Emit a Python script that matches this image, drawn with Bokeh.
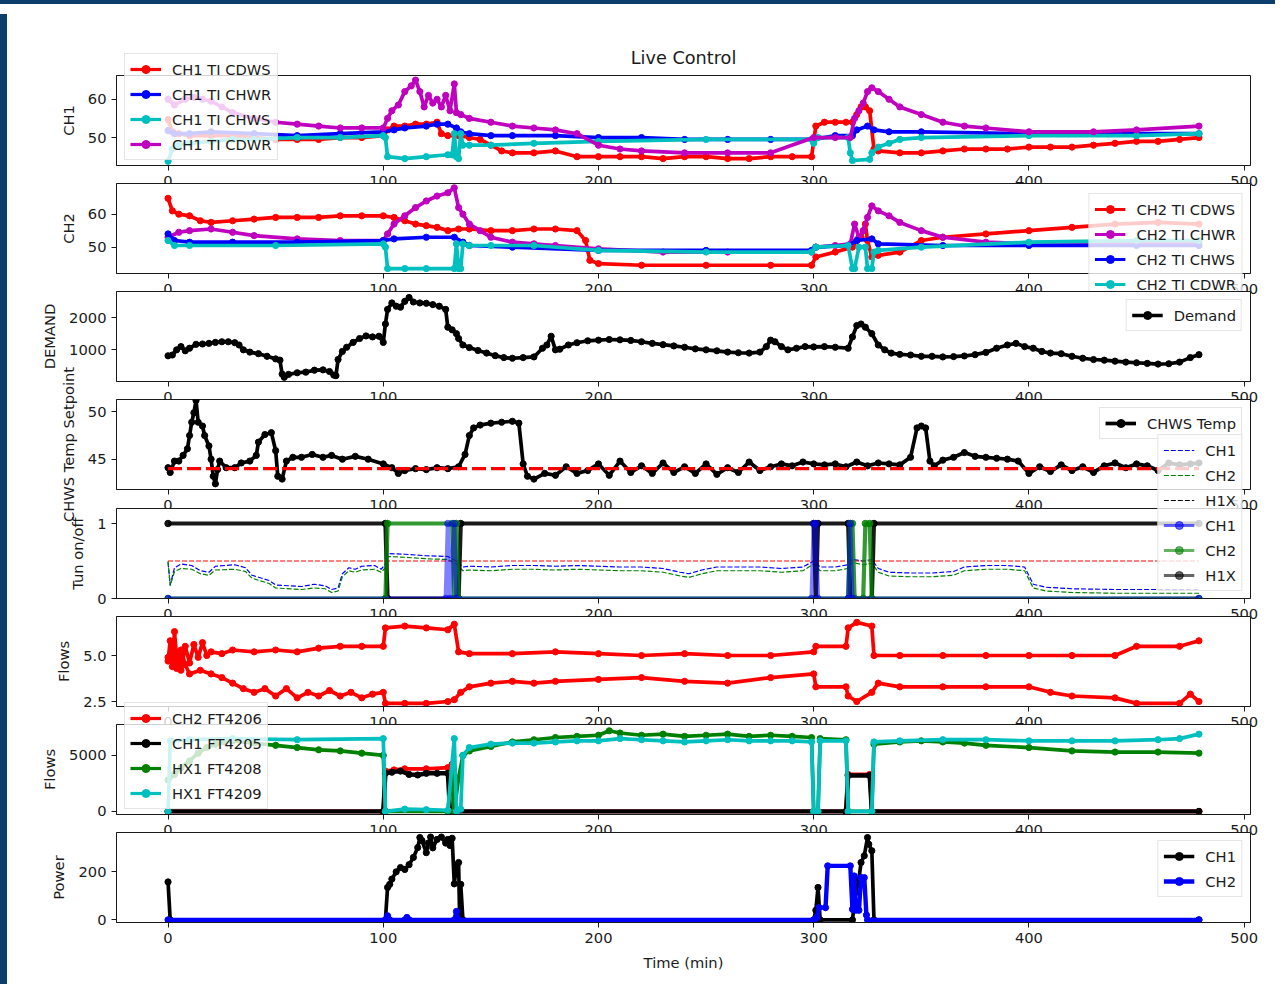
import numpy as np
from bokeh.plotting import figure
from bokeh.layouts import column, row
from bokeh.models import (Range1d, Legend, LegendItem, Div, FixedTicker,
                          PrintfTickFormatter)
from bokeh.embed import file_html
from bokeh.resources import INLINE

FONT = "DejaVu Sans"
FS = "14.7px"
TXT = "#1a1a1a"

# ---------------- data (time in minutes, value) ----------------
x_ticks = [0, 100, 200, 300, 400, 500]

ch1_cdws = [(0,54.7),(2,51.5),(5,51),(10,50.5),(20,50.5),(30,50.5),(40,50),(50,49.5),(60,49.5),(70,49.5),(80,50),(90,50),(100,50.5),(102,52),(105,53),(110,53),(115,53.5),(120,53.5),(125,54),(127,51),(130,50.5),(135,50.5),(140,50),(145,49.5),(150,48),(155,46.5),(160,46),(170,46),(180,46.5),(190,45),(200,45),(210,45),(220,45),(230,44.5),(240,45),(250,45),(260,44.5),(270,44.5),(280,45),(290,45),(299,45),(301,53),(305,54),(310,54),(315,54),(318,54),(320,56),(322,58),(324,58),(326,57),(328,47),(330,46.5),(340,46),(350,46),(360,46.5),(370,47),(380,47),(390,47),(400,47.5),(410,47.5),(420,47.5),(430,48),(440,48.5),(450,49),(460,49),(470,49.5),(479,50)]
ch1_chwr = [(0,51.8),(3,51),(10,51),(20,51.5),(40,51),(60,50.5),(80,51),(100,51.5),(105,52),(110,52.5),(120,53),(125,53.5),(130,53.5),(134,52.5),(136,51.5),(140,51),(150,50.5),(160,50.5),(180,50.5),(200,50),(220,50),(240,49.5),(260,49.5),(280,49.5),(300,49.5),(310,50.5),(318,50.5),(320,52),(325,53),(328,52),(335,51.5),(350,51.5),(400,51),(450,51),(479,51)]
ch1_chws = [(0,43.8),(2,47),(5,48),(10,48.5),(20,49),(30,49.5),(40,49.5),(60,50),(80,50),(100,50.5),(101,50),(102,45),(110,44.5),(120,45),(130,45.5),(132,45.5),(133,51),(134,45),(135,44.5),(136,51),(137,48),(140,48),(150,48),(170,48.5),(200,49),(250,49.5),(299,49.5),(300,48.5),(302,50),(316,50),(317,46),(318,44),(326,44.3),(327,46),(330,47.5),(335,48.5),(340,49.5),(350,50),(400,50.5),(450,50.5),(479,51)]
ch1_cdwr = [(0,60),(3,58.5),(8,60),(12,60.5),(16,60),(20,59.5),(25,58),(30,56.5),(40,55),(50,54),(60,53.5),(70,53),(80,52.5),(90,52.5),(100,52.5),(102,55),(104,57),(107,58.5),(110,62),(113,63.5),(115,65),(117,62),(119,58),(121,61),(123,59),(125,60),(127,58),(129,61),(131,57),(133,64),(134,56.5),(136,56),(140,55),(150,54),(160,53),(170,52.5),(180,52),(190,51),(200,48),(210,47),(220,46.5),(240,46),(260,46),(280,46),(300,50),(310,50),(317,50),(319,55),(321,57),(323,59),(325,62),(327,63),(330,62),(335,60),(340,58),(350,56),(360,54),(370,53),(380,52.5),(400,51.5),(430,51.5),(450,52),(479,53)]

ch2_cdws = [(0,64.8),(2,61),(5,60),(10,59.5),(15,58),(20,57.5),(30,58),(40,58.5),(50,59),(60,59),(70,59),(80,59.5),(90,59.5),(100,59.5),(105,59),(110,58),(115,57),(120,56.5),(125,56),(130,55),(135,55.5),(140,55.5),(150,55),(160,55),(170,55.5),(180,55.5),(190,55),(194,52),(196,46),(200,45),(220,44.5),(250,44.5),(280,44.5),(299,44.5),(301,47),(310,48.5),(318,50),(320,52),(322,53),(324,57),(325,52),(327,47),(330,47.5),(340,48.5),(350,52),(360,53),(380,54),(400,55),(420,56),(440,57),(460,57.5),(479,57)]
ch2_chwr = [(0,53),(5,54.5),(10,55),(20,55.5),(30,54.5),(40,53.5),(60,52.5),(80,52),(100,52),(102,54),(105,57),(110,59.5),(115,62),(120,64),(125,65.5),(130,66.5),(133,68),(135,62),(137,60),(140,57),(145,55),(150,53),(160,51.5),(170,51),(180,50.5),(200,49.5),(230,48.5),(260,48.5),(299,48.5),(301,50),(310,50.5),(317,51),(319,57),(321,53),(323,55),(325,59),(327,62.5),(330,61),(335,59.5),(340,57.5),(350,55),(360,53),(380,51.5),(400,51),(450,51),(479,51.5)]
ch2_chws = [(0,54),(3,52),(10,51.5),(30,51.5),(60,51.5),(100,52),(105,52.5),(120,53),(133,53),(137,51.5),(140,50.5),(160,50),(200,49),(250,49),(299,49),(301,50),(316,50.5),(320,52),(327,52.5),(330,51),(360,50.5),(400,50.5),(450,50.5),(479,50.5)]
ch2_cdwr = [(0,52),(3,50.5),(10,50.5),(50,50.5),(100,51),(101,50),(102,43.5),(110,43.5),(120,43.5),(133,43.5),(134,51),(135,43.5),(136,43.5),(137,51),(140,50.5),(150,50.5),(170,50.5),(200,49),(250,48.5),(299,48.5),(301,50),(316,50.5),(318,43.5),(319,43.5),(321,50),(324,50),(325,43.5),(327,43.5),(328,48.5),(330,49),(350,50),(400,51.5),(450,52),(479,52)]

demand = [(0,815),(2,840),(4,1000),(6,1100),(8,970),(10,1050),(13,1170),(16,1180),(19,1200),(22,1230),(25,1250),(28,1250),(31,1220),(33,1150),(35,1000),(38,930),(42,880),(46,800),(50,720),(52,680),(53,250),(54,150),(56,240),(60,290),(64,310),(68,370),(72,380),(75,330),(77,220),(78,200),(79,700),(81,950),(83,1080),(86,1230),(89,1350),(92,1430),(95,1400),(98,1420),(100,1230),(101,1800),(102,2250),(104,2450),(106,2350),(108,2320),(110,2500),(112,2620),(114,2480),(117,2450),(120,2440),(123,2400),(126,2350),(129,2250),(130,1700),(132,1620),(134,1500),(135,1350),(137,1150),(140,1070),(144,980),(148,900),(152,820),(156,760),(160,740),(165,760),(170,780),(174,1050),(176,1150),(178,1420),(180,1000),(182,1020),(186,1150),(190,1220),(195,1280),(200,1300),(205,1320),(210,1310),(215,1290),(220,1250),(225,1200),(230,1160),(235,1120),(240,1080),(245,1030),(250,1000),(255,970),(260,930),(265,910),(270,900),(275,930),(278,1100),(280,1300),(282,1250),(285,1100),(288,1000),(292,1050),(296,1100),(300,1090),(305,1100),(310,1080),(316,1050),(318,1400),(320,1750),(322,1800),(324,1700),(327,1500),(330,1150),(333,1000),(336,900),(340,860),(345,840),(350,800),(355,800),(360,780),(365,790),(370,810),(375,850),(380,920),(385,1050),(390,1150),(394,1200),(398,1100),(402,1050),(406,950),(410,900),(415,880),(420,800),(425,740),(430,700),(435,680),(440,650),(445,620),(450,600),(455,580),(460,560),(465,570),(470,620),(475,760),(479,850)]

chws_temp = [(0,44.1),(1,43.6),(3,44.8),(5,44.8),(7,45.4),(9,46.1),(10,47.5),(11,48.9),(12,49.9),(13,51.2),(14,48.9),(16,48.5),(17,47.5),(19,46.4),(20,45),(21,43.2),(22,42.4),(23,43.9),(24,44.8),(27,44.1),(31,44.1),(34,44.6),(38,44.8),(41,45.4),(42,46.8),(45,47.6),(48,47.8),(50,45.9),(51,43.2),(53,42.9),(55,44.8),(58,45.2),(62,45.2),(67,45.5),(72,45.2),(76,45.4),(81,45),(87,45.3),(93,45),(100,44.5),(104,44.1),(107,43.5),(110,43.8),(115,44),(120,43.9),(125,44.1),(130,44),(135,44.2),(138,45.5),(140,47.5),(142,48.3),(145,48.6),(150,48.8),(155,48.9),(160,49),(163,48.8),(165,44.5),(167,43.2),(170,42.9),(175,43.5),(180,43.3),(185,44.2),(190,43.5),(195,43.8),(200,44.5),(205,43.3),(210,44.8),(215,43.6),(220,44.3),(225,43.5),(230,44.6),(235,43.6),(240,44.2),(245,43.5),(250,44.5),(255,43.4),(260,44.1),(265,43.6),(270,44.7),(275,43.8),(280,44.2),(285,44.5),(290,44.3),(295,44.7),(300,44.5),(305,44.4),(310,44.5),(315,44.2),(320,44.7),(325,44.3),(330,44.6),(335,44.5),(340,44.4),(345,45.2),(348,48.3),(350,48.5),(352,48.3),(354,44.8),(356,44.3),(360,44.9),(365,45.2),(370,45.7),(375,45.3),(380,45.2),(385,45.1),(390,45),(395,44.8),(400,43.5),(405,44.2),(410,43.7),(415,44.4),(420,43.8),(425,44.2),(430,43.6),(435,44.3),(440,44.6),(445,44.1),(450,44.5),(455,44.3),(460,43.8),(465,44.6),(470,44.4),(475,44.5),(479,44.6)]
chws_setpoint = [(0,44),(479,44)]

tun_ch1 = [(0,0.48),(1,0.18),(3,0.41),(6,0.46),(11,0.44),(15,0.37),(19,0.35),(22,0.43),(31,0.45),(36,0.41),(39,0.31),(47,0.24),(50,0.18),(62,0.16),(68,0.19),(73,0.17),(76,0.12),(79,0.14),(81,0.33),(84,0.41),(87,0.39),(90,0.43),(96,0.44),(99,0.39),(101,0.46),(102,0.6),(110,0.59),(120,0.57),(130,0.56),(134,0.5),(137,0.42),(140,0.43),(150,0.42),(160,0.44),(170,0.44),(180,0.43),(190,0.44),(200,0.43),(210,0.42),(220,0.42),(230,0.4),(238,0.35),(242,0.33),(248,0.38),(255,0.42),(265,0.42),(275,0.42),(285,0.4),(295,0.42),(300,0.5),(303,0.42),(310,0.42),(316,0.45),(318,0.52),(323,0.5),(327,0.52),(330,0.4),(335,0.35),(345,0.34),(355,0.34),(365,0.36),(370,0.42),(380,0.44),(390,0.44),(398,0.42),(402,0.19),(408,0.15),(420,0.13),(440,0.12),(460,0.12),(479,0.12)]
tun_ch2 = [(0,0.5),(1,0.17),(3,0.36),(6,0.4),(11,0.39),(15,0.33),(19,0.31),(22,0.38),(31,0.39),(36,0.36),(39,0.27),(47,0.2),(50,0.14),(62,0.12),(68,0.14),(73,0.13),(76,0.08),(79,0.1),(81,0.29),(84,0.37),(87,0.35),(90,0.38),(96,0.39),(99,0.35),(101,0.41),(102,0.56),(110,0.55),(120,0.53),(130,0.52),(134,0.46),(137,0.37),(140,0.38),(150,0.37),(160,0.39),(170,0.39),(180,0.38),(190,0.39),(200,0.38),(210,0.37),(220,0.37),(230,0.35),(238,0.3),(242,0.28),(248,0.33),(255,0.37),(265,0.37),(275,0.37),(285,0.35),(295,0.37),(300,0.46),(303,0.37),(310,0.37),(316,0.4),(318,0.48),(323,0.45),(327,0.47),(330,0.35),(335,0.3),(345,0.29),(355,0.29),(365,0.31),(370,0.37),(380,0.39),(390,0.39),(398,0.37),(402,0.14),(408,0.1),(420,0.08),(440,0.07),(460,0.07),(479,0.07)]
tun_h1x = [(0,0),(479,0)]
tun_limit = [(0,0.5),(479,0.5)]
on_ch1 = [(0,0),(129,0),(130,1),(131,0),(133,1),(134,0),(299,0),(300,1),(301,1),(302,0),(316,0),(317,1),(318,0),(479,0)]
on_ch2 = [(0,0),(101,0),(102,1),(132,1),(133,0),(134,1),(135,0),(316,0),(317,1),(318,1),(319,0),(323,0),(324,1),(326,1),(327,0),(479,0)]
on_h1x = [(0,1),(101,1),(102,0),(135,0),(136,1),(300,1),(301,0),(302,1),(316,1),(317,0),(327,0),(328,1),(479,1)]

flow_a = [(0,4.7),(1,5.8),(2,4.4),(3,6.3),(4,4.8),(5,5.2),(6,4.2),(8,5.5),(10,4.6),(12,5.6),(14,4.9),(16,5.7),(18,5.0),(20,5.2),(25,5.1),(30,5.3),(40,5.2),(50,5.3),(60,5.2),(70,5.4),(80,5.5),(90,5.5),(100,5.5),(101,6.5),(110,6.6),(120,6.5),(130,6.4),(133,6.7),(135,5.2),(140,5.1),(160,5.1),(180,5.2),(200,5.1),(220,5.0),(240,5.1),(260,5.0),(280,5.0),(300,5.2),(301,5.5),(315,5.5),(316,6.5),(320,6.8),(327,6.6),(328,5.0),(340,5.0),(360,5.0),(380,5.0),(400,5.0),(420,5.0),(440,5.0),(450,5.5),(470,5.5),(479,5.8)]
flow_b = [(0,4.9),(2,5.6),(4,4.3),(6,5.3),(8,4.5),(10,4.0),(15,4.2),(20,4.0),(25,3.8),(30,3.5),(35,3.2),(40,3.0),(45,3.2),(50,2.8),(55,3.2),(60,2.7),(65,3.0),(70,2.8),(75,3.1),(80,2.8),(85,3.0),(90,2.7),(95,2.9),(100,3.0),(101,2.4),(110,2.4),(120,2.4),(130,2.5),(133,2.6),(136,3.0),(140,3.3),(150,3.5),(160,3.6),(170,3.5),(180,3.6),(200,3.7),(220,3.8),(240,3.6),(260,3.5),(280,3.8),(300,4.0),(301,3.3),(315,3.3),(316,2.8),(320,2.5),(327,3.0),(330,3.5),(340,3.3),(360,3.3),(380,3.3),(400,3.3),(410,3.0),(420,2.8),(440,2.7),(450,2.4),(470,2.4),(475,2.9),(479,2.5)]

ch2_ft4206 = [(0,0),(100,0),(101,3600),(105,3700),(110,3800),(120,3800),(130,3900),(132,4200),(133,0),(315,0),(316,3300),(326,3300),(327,0),(479,0)]
ch1_ft4205 = [(0,0),(100,0),(101,3400),(104,3500),(108,3600),(112,3300),(116,3250),(120,3400),(125,3400),(130,3400),(131,0),(315,0),(316,3200),(326,3200),(327,0),(479,0)]
hx1_ft4208 = [(0,2800),(3,3300),(6,3900),(10,4500),(14,5200),(18,5700),(22,6000),(26,6200),(30,6300),(40,6100),(50,5900),(60,5700),(70,5500),(80,5400),(90,5200),(100,5000),(101,0),(130,0),(132,3500),(133,0),(135,3000),(137,5000),(140,5400),(150,5800),(160,6200),(170,6400),(180,6600),(190,6700),(200,6800),(205,7200),(210,7000),(220,6800),(230,6900),(240,6700),(250,6800),(260,6900),(270,6700),(280,6800),(290,6700),(299,6600),(300,0),(302,0),(303,6500),(315,6400),(316,0),(327,0),(328,6000),(340,6200),(350,6300),(360,6200),(370,6100),(380,5900),(400,5700),(420,5400),(440,5300),(460,5300),(479,5200)]
hx1_ft4209 = [(0,0),(1,6300),(10,6400),(30,6500),(60,6400),(100,6500),(101,0),(110,200),(120,150),(130,100),(133,6500),(134,0),(136,200),(137,5000),(140,5700),(150,6000),(160,6100),(170,6100),(180,6200),(190,6300),(200,6300),(210,6500),(220,6400),(230,6300),(240,6200),(250,6300),(260,6400),(270,6300),(280,6300),(290,6300),(299,6200),(300,0),(302,0),(303,6300),(315,6300),(316,0),(327,0),(328,6200),(340,6300),(360,6400),(380,6400),(400,6300),(420,6300),(440,6300),(460,6400),(470,6500),(479,6900)]

power_ch1 = [(0,158),(1,0),(101,0),(102,135),(103,148),(104,170),(106,200),(108,218),(110,210),(112,230),(114,260),(116,301),(117,343),(118,330),(120,280),(121,320),(122,345),(123,300),(125,335),(127,345),(129,320),(130,335),(131,310),(132,340),(133,150),(134,226),(135,239),(135.5,0),(136,148),(137,0),(300,0),(301,40),(302,135),(303,0),(318,0),(319.5,114),(321,169),(322,239),(323.5,267),(325,343),(325.6,315),(327,288),(328,0),(479,0)]
power_ch2 = [(0,0),(101,0),(102,17),(103,0),(110,0),(111,10),(112,0),(133,0),(134,35),(135,0),(300,0),(301.5,10),(302.5,51),(305.5,51),(306.5,225),(317,225),(318,44),(318.8,183),(319.5,40),(321,40),(322,176),(323.5,176),(324.5,20),(325,0),(479,0)]

# ---------------- helpers ----------------
X_RANGE = Range1d(-23.95, 502.95)
FRAME_H = 90
LW, MS = 3.7, 6.2       # data lines
LEG_LW = 3.2            # legend handles
FIG_W, BORDER_L, BORDER_R = 1268, 104, 30


def xy(pairs):
    return [a for a, _ in pairs], [b for _, b in pairs]


def make_panel(ylo, yhi, yticks, ylabel, bt, bb, title=None, xlabel=None, yfmt=None):
    p = figure(width=FIG_W, height=bt + FRAME_H + bb, x_range=X_RANGE,
               y_range=Range1d(ylo, yhi), output_backend="svg",
               toolbar_location=None, title=title,
               min_border_left=BORDER_L, min_border_right=BORDER_R,
               min_border_top=bt, min_border_bottom=bb)
    p.border_fill_color = None
    p.background_fill_color = "white"
    p.outline_line_color = "#1a1a1a"
    p.outline_line_width = 1
    p.grid.visible = False
    for ax in (p.xaxis[0], p.yaxis[0]):
        ax.axis_line_color = "#1a1a1a"
        ax.major_tick_line_color = "#1a1a1a"
        ax.major_tick_out = 5
        ax.major_tick_in = 0
        ax.minor_tick_line_color = None
        ax.major_label_text_font = FONT
        ax.major_label_text_font_size = FS
        ax.major_label_text_color = TXT
        ax.axis_label_text_font = FONT
        ax.axis_label_text_font_size = FS
        ax.axis_label_text_font_style = "normal"
        ax.axis_label_text_color = TXT
        ax.major_label_standoff = 5
    p.xaxis.ticker = FixedTicker(ticks=x_ticks)
    p.yaxis.ticker = FixedTicker(ticks=yticks)
    p.yaxis.axis_label = ylabel
    p.yaxis.axis_label_standoff = 8
    if yfmt:
        p.yaxis.formatter = PrintfTickFormatter(format=yfmt)
    if xlabel:
        p.xaxis.axis_label = xlabel
        p.xaxis.axis_label_standoff = 8
    if title:
        p.title.text_font = FONT
        p.title.text_font_size = "17.7px"
        p.title.text_font_style = "normal"
        p.title.text_color = TXT
        p.title.align = "center"
        p.title.standoff = 15
    return p


def series(p, pairs, color, lw=LW, size=MS, alpha=1.0, dash="solid", marker=True):
    x, y = xy(pairs)
    rs = [p.line(x, y, line_color=color, line_width=lw, line_alpha=alpha, line_dash=dash)]
    if marker:
        rs.append(p.scatter(x, y, size=size, fill_color=color, line_color=color,
                            fill_alpha=alpha, line_alpha=alpha))
    return rs


LEGEND_STYLE = dict(label_text_font=FONT, label_text_font_size=FS,
                    label_text_color=TXT, glyph_width=31, glyph_height=20,
                    label_height=20, label_standoff=11, spacing=5, padding=5,
                    margin=8, border_line_color="#cccccc", border_line_width=1,
                    background_fill_color="white", background_fill_alpha=0.8)


def add_legend(p, items, location):
    lg = Legend(items=[LegendItem(label=l, renderers=r) for l, r in items],
                location=location, **LEGEND_STYLE)
    p.add_layout(lg)


NAN = np.array([np.nan])


def legend_overlay(entries, height, anchor):
    """Transparent full-width layer, aligned with the panels' frames, that only
    carries a legend which reaches beyond the frame of its own panel.
    Its renderers are style proxies holding a single NaN (nothing is drawn)."""
    q = figure(width=FIG_W, height=height, output_backend="svg",
               toolbar_location=None, x_axis_location=None, y_axis_location=None,
               x_range=Range1d(0, 1), y_range=Range1d(0, 1),
               min_border_left=BORDER_L, min_border_right=BORDER_R,
               min_border_top=0, min_border_bottom=0)
    q.outline_line_color = None
    q.background_fill_color = None
    q.border_fill_color = None
    q.grid.visible = False
    items = []
    for label, color, lw, dash, marker, alpha in entries:
        rs = [q.line(NAN, NAN, line_color=color, line_width=lw, line_dash=dash, line_alpha=alpha)]
        if marker:
            rs.append(q.scatter(NAN, NAN, size=5.5, fill_color=color, line_color=color,
                                fill_alpha=alpha, line_alpha=alpha))
        items.append(LegendItem(label=label, renderers=rs))
    q.add_layout(Legend(items=items, location=anchor, **LEGEND_STYLE))
    return q


RED, BLUE, CYAN, MAG, GREEN, BLACK = "#ff0000", "#0000ff", "#00bfbf", "#bf00bf", "#008000", "#000000"

# Panel 1
p1 = make_panel(42.7, 66.2, [50, 60], "CH1", 66, 34, title="Live Control")
series(p1, ch1_cdws, RED); series(p1, ch1_chwr, BLUE)
series(p1, ch1_chws, CYAN); series(p1, ch1_cdwr, MAG)
L1 = legend_overlay([("CH1 TI CDWS", RED, LEG_LW, "solid", True, 1),
                     ("CH1 TI CHWR", BLUE, LEG_LW, "solid", True, 1),
                     ("CH1 TI CHWS", CYAN, LEG_LW, "solid", True, 1),
                     ("CH1 TI CDWR", MAG, LEG_LW, "solid", True, 1)], 121, "top_left")

# Panel 2
p2 = make_panel(42.0, 69.3, [50, 60], "CH2", 6, 34)
series(p2, ch2_cdws, RED); series(p2, ch2_chwr, MAG)
series(p2, ch2_chws, BLUE); series(p2, ch2_cdwr, CYAN)
L2 = legend_overlay([("CH2 TI CDWS", RED, LEG_LW, "solid", True, 1),
                     ("CH2 TI CHWR", MAG, LEG_LW, "solid", True, 1),
                     ("CH2 TI CHWS", BLUE, LEG_LW, "solid", True, 1),
                     ("CH2 TI CDWR", CYAN, LEG_LW, "solid", True, 1)], 121, "top_right")

# Panel 3
p3 = make_panel(20, 2805, [1000, 2000], "DEMAND", 6, 34)
r = series(p3, demand, BLACK)
add_legend(p3, [("Demand", r)], "top_right")

# Panel 4
p4 = make_panel(41.8, 51.3, [45, 50], "CHWS Temp Setpoint", 48, 48)
r = series(p4, chws_temp, BLACK)
series(p4, chws_setpoint, RED, lw=3.2, dash="14 5", marker=False)
add_legend(p4, [("CHWS Temp", r)], "top_right")

# Panel 5
p5 = make_panel(0, 1.2, [0, 1], "Tun on/off", 80, 34)
series(p5, tun_h1x, BLACK, lw=1.2, dash="5 2", marker=False)
series(p5, tun_ch1, BLUE, lw=1.2, dash="5 2", marker=False)
series(p5, tun_ch2, GREEN, lw=1.2, dash="5 2", marker=False)
series(p5, tun_limit, RED, lw=1.2, dash="5 2", marker=False)
series(p5, on_h1x, BLACK, lw=4.2, size=6.5, alpha=0.9)
series(p5, on_ch2, GREEN, lw=4.2, size=6.5, alpha=0.8)
series(p5, on_ch1, BLUE, lw=4.2, size=6.5, alpha=0.5)
L5 = legend_overlay([("CH1", BLUE, 1.2, "5 2", False, 1),
                     ("CH2", GREEN, 1.2, "5 2", False, 1),
                     ("H1X", BLACK, 1.2, "5 2", False, 1),
                     ("CH1", BLUE, LEG_LW, "solid", True, 0.6),
                     ("CH2", GREEN, LEG_LW, "solid", True, 0.6),
                     ("H1X", BLACK, LEG_LW, "solid", True, 0.6)], 171, "top_right")

# Panel 6
p6 = make_panel(2.23, 7.12, [2.5, 5.0], "Flows", 6, 34, yfmt="%.1f")
series(p6, flow_a, RED)
series(p6, flow_b, RED)

# Panel 7
p7 = make_panel(-280, 7760, [0, 5000], "Flows", 26, 34)
series(p7, ch2_ft4206, RED); series(p7, ch1_ft4205, BLACK, lw=4.4)
series(p7, hx1_ft4208, GREEN); series(p7, hx1_ft4209, CYAN)
L7 = legend_overlay([("CH2 FT4206", RED, LEG_LW, "solid", True, 1),
                     ("CH1 FT4205", BLACK, LEG_LW, "solid", True, 1),
                     ("HX1 FT4208", GREEN, LEG_LW, "solid", True, 1),
                     ("HX1 FT4209", CYAN, LEG_LW, "solid", True, 1)], 121, "top_left")

# Panel 8
p8 = make_panel(-11, 364, [0, 200], "Power", 6, 57, xlabel="Time (min)")
r = [series(p8, power_ch1, BLACK), series(p8, power_ch2, BLUE, lw=4.4)]
add_legend(p8, list(zip(["CH1", "CH2"], r)), "top_right")

# ---------------- stacking: absolute top of every canvas ----------------
COL_Y = 7
placement = [(p1, 7), (L1, 43), (p2, 175), (L2, 183),
             (p3, 283), (p4, 349), (p5, 426), (L5, 424),
             (p6, 608), (p7, 696), (L7, 692), (p8, 824)]
flow = COL_Y
for fig, top in placement:
    fig.margin = (top - flow, 0, 0, 0)
    flow = top + fig.height

BAR = "#0d3e6b"
figs = column(*[f for f, _ in placement], spacing=0)
left_bar = Div(text="", width=10, height=970, styles={"background-color": BAR})
top_bar = Div(text="", width=1278, height=7, styles={"background-color": BAR})
root = column(top_bar, row(left_bar, figs, spacing=0), spacing=0, margin=(-8, 0, 0, -8))

open("out.html", "w").write(file_html(root, INLINE))
